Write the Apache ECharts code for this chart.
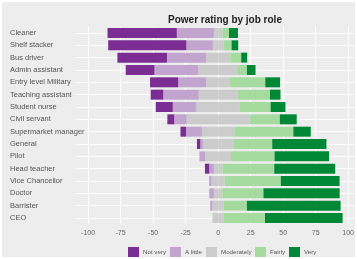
<!DOCTYPE html>
<html>
<head>
<meta charset="utf-8">
<script src="https://cdn.jsdelivr.net/npm/echarts@6/dist/echarts.min.js"></script>
<style>
  html, body { margin: 0; padding: 0; background: #fff; }
  #chart { width: 357px; height: 259px; }
</style>
</head>
<body>
<div id="chart"></div>
<script>
// job roles, top to bottom
var roles = ['Cleaner', 'Shelf stacker', 'Bus driver', 'Admin assistant', 'Entry level Military',
  'Teaching assistant', 'Student nurse', 'Civil servant', 'Supermarket manager', 'General',
  'Pilot', 'Head teacher', 'Vice Chancellor', 'Doctor', 'Barrister', 'CEO'];

// percentages per answer
var notVery    = [53.3, 60.1, 38.1, 22.1, 21.6, 9.7, 13.1, 5.3, 4.3, 2.6, 0, 3.3, 0, 0, 0, 0];
var aLittle    = [28.5, 20.4, 30.0, 33.7, 21.6, 27.2, 18.1, 9.6, 12.2, 2.0, 4.5, 3.6, 1.8, 3.6, 1.8, 0];
var moderately = [6.5, 8.1, 18.7, 30.5, 18.3, 29.9, 33.5, 48.3, 24.9, 23.4, 19.8, 6.5, 10.2, 6.5, 8.6, 8.7];
var fairly     = [5.1, 6.3, 8.4, 6.9, 27.1, 24.9, 23.6, 23.3, 45.4, 29.9, 33.5, 39.9, 43.1, 31.6, 17.8, 31.7];
var very       = [6.9, 5.1, 4.6, 6.6, 11.4, 8.1, 11.4, 13.0, 13.4, 41.7, 41.9, 46.9, 45.2, 58.6, 72.1, 59.7];

var tickValues = [-100, -75, -50, -25, 0, 25, 50, 75, 100];
var answers = ['Not very', 'A little', 'Moderately', 'Fairly', 'Very'];
var colors = ['#7b2d93', '#c2a5cf', '#cccccc', '#a6dba0', '#008837'];

// x position of each legend key
var legendLeft = [128, 170, 206, 255, 289];

var font = "'Liberation Sans', Arial, sans-serif";

function neg(arr) { return arr.map(function (v) { return -v; }); }
function half(arr) { return arr.map(function (v) { return v / 2; }); }

function bar(name, data, color) {
    return {
        name: name,
        type: 'bar',
        stack: 'total',
        barWidth: 10,
        yAxisIndex: 0,
        itemStyle: { color: color },
        emphasis: { disabled: true },
        data: data
    };
}

// row centres, used only for the horizontal grid lines
var rowIdx = roles.map(function (r, i) { return i; });

// one legend per key so the keys sit where the reference has them
var legends = answers.map(function (a, i) {
    return {
        data: [a],
        left: legendLeft[i],
        top: 247,
        padding: 0,
        itemWidth: 11,
        itemHeight: 10,
        itemGap: 0,
        icon: 'rect',
        selectedMode: false,
        textStyle: { fontSize: 6.2, color: '#555', padding: [0, 0, 0, -1] }
    };
});

var myChart = echarts.init(document.getElementById('chart'));

myChart.setOption({
    backgroundColor: '#ffffff',
    animation: false,
    textStyle: { fontFamily: font },
    graphic: [{
        type: 'rect',
        z: -10,
        silent: true,
        shape: { x: 2, y: 2, width: 353, height: 255 },
        style: { fill: '#ededed' }
    }],
    title: {
        text: 'Power rating by job role',
        left: 220,
        textAlign: 'center',
        top: 10,
        textStyle: { fontSize: 10, fontWeight: 'bold', color: '#222', fontFamily: font }
    },
    legend: legends,
    grid: { left: 76, right: 0, top: 26.8, bottom: 34.8, containLabel: false },
    xAxis: {
        type: 'value',
        min: -109.3,
        max: 104.5,
        axisLine: { show: false },
        axisTick: { show: false, customValues: tickValues },
        axisLabel: { customValues: tickValues, fontSize: 7, color: '#666', margin: 5 },
        splitLine: { lineStyle: { color: '#ffffff', width: 1 } }
    },
    yAxis: [{
        type: 'category',
        data: roles,
        inverse: true,
        axisLine: { show: false },
        axisTick: { show: false },
        axisLabel: { align: 'left', margin: 66, fontSize: 7.5, color: '#555' },
        splitLine: { show: false }
    }, {
        type: 'value',
        min: -0.5,
        max: 15.5,
        inverse: true,
        position: 'left',
        axisLine: { show: false },
        axisTick: { show: false, customValues: rowIdx },
        axisLabel: { show: false, customValues: rowIdx },
        splitLine: { show: true, lineStyle: { color: '#ffffff', width: 1 } }
    }],
    series: [
        bar('Moderately', neg(half(moderately)), colors[2]),
        bar('Moderately', half(moderately), colors[2]),
        bar('A little', neg(aLittle), colors[1]),
        bar('Fairly', fairly, colors[3]),
        bar('Not very', neg(notVery), colors[0]),
        bar('Very', very, colors[4])
    ]
});
</script>
</body>
</html>
